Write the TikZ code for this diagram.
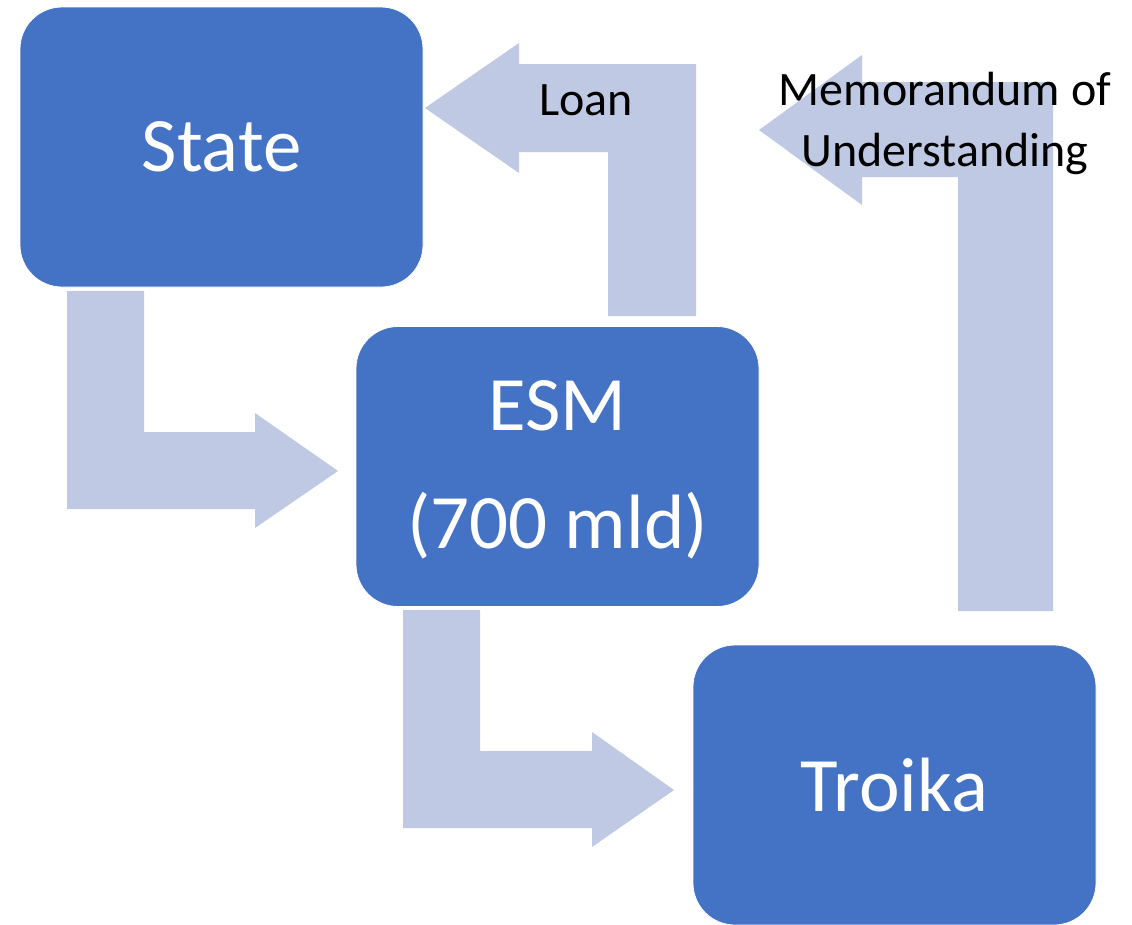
\documentclass[tikz,border=0pt]{standalone}
\usepackage{fontspec}
\setmainfont{Carlito}
\definecolor{boxblue}{HTML}{4472C4}
\definecolor{arrowblue}{HTML}{BFC9E4}
\begin{document}
\begin{tikzpicture}[x=1pt,y=-1pt,
  entity/.style={rectangle, rounded corners=42pt, fill=boxblue, draw=white, line width=0.8pt,
    minimum width=403pt, minimum height=280pt, inner sep=0pt, text=white, align=center,
    font=\fontsize{77}{118}\selectfont},
  entitytext/.style={text=white, align=center, inner sep=0pt, font=\fontsize{77}{118}\selectfont},
  bentarrow/.style={fill=arrowblue, draw=none},
  flowlabel/.style={text=black, align=center, inner sep=0pt, font=\fontsize{48}{61}\selectfont}]
\useasboundingbox (0,0) rectangle (1132,924);
% bent arrows
\draw[bentarrow] (67,291) -- (144,291) -- (144,432) -- (255,432) -- (255,413) -- (338,471) -- (255,528) -- (255,509) -- (67,509) -- cycle;
\draw[bentarrow] (403,610) -- (480,610) -- (480,751) -- (592,751) -- (592,732) -- (674,790) -- (592,847) -- (592,828) -- (403,828) -- cycle;
\draw[bentarrow] (608,316) -- (696,316) -- (696,64) -- (519,64) -- (519,43) -- (425,108) -- (519,173) -- (519,152) -- (608,152) -- cycle;
\draw[bentarrow] (958,611) -- (1053,611) -- (1053,82) -- (862,82) -- (862,55) -- (759,130) -- (862,205) -- (862,177) -- (958,177) -- cycle;
% boxes
\node[entity] (state) at (221.5,147) {State};
\node[entity] (esm) at (557.5,466.5) {};
\node[entitytext, anchor=base] (esm1) at (557.5,430) {ESM};
\node[entitytext, anchor=base] (esm2) at (557.5,548) {(700 mld)};
\node[entity] (troika) at (894.5,785) {Troika};
% labels
\node[flowlabel, anchor=base] (loan) at (586,115) {Loan};
\node[flowlabel, anchor=base] (mou1) at (945,105) {Memorandum of};
\node[flowlabel, anchor=base] (mou2) at (945,166) {Understanding};
\end{tikzpicture}
\end{document}
